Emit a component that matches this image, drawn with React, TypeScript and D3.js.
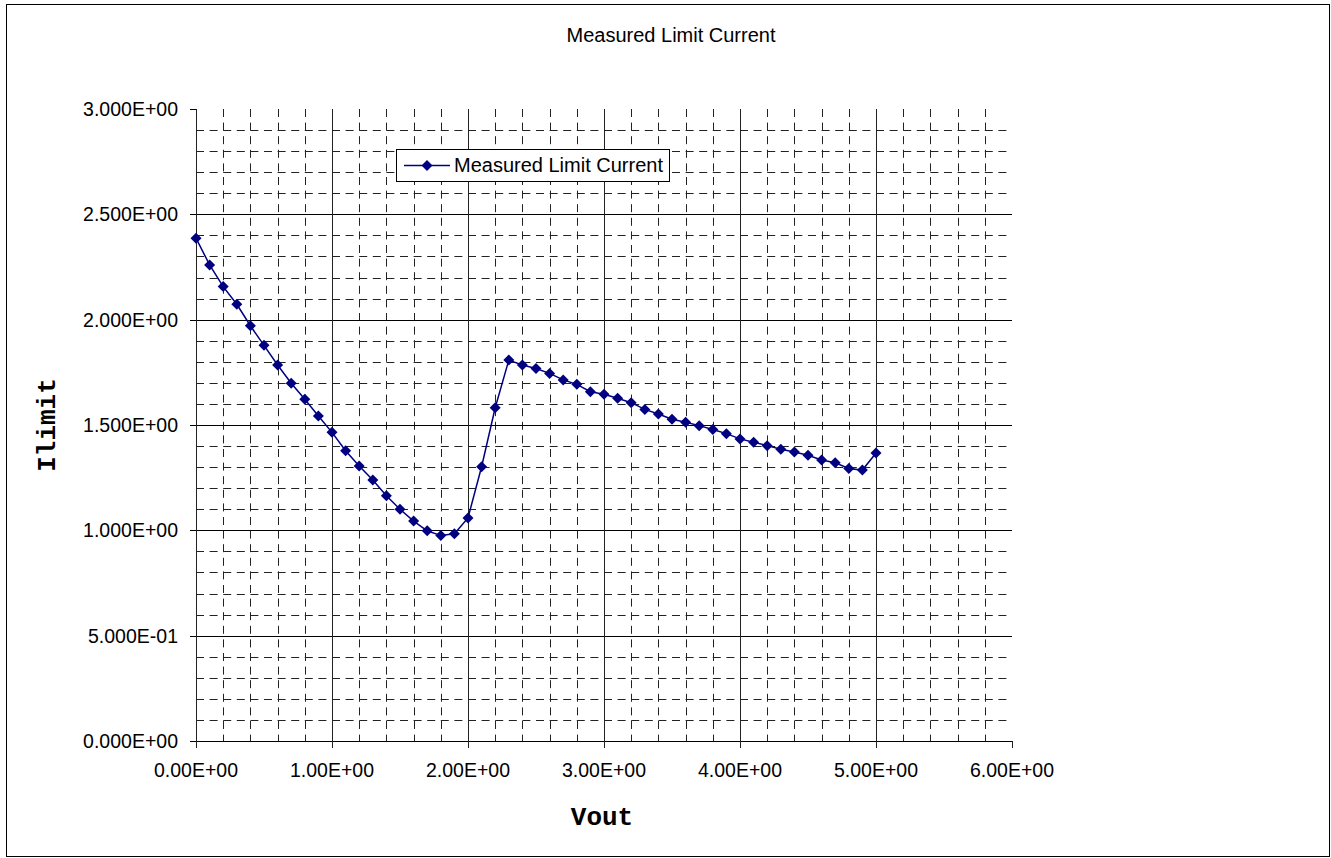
import React from "react";
import * as d3 from "d3";

const vout: number[] = [
  0.0, 0.1, 0.2, 0.3, 0.4, 0.5, 0.6, 0.7, 0.8, 0.9,
  1.0, 1.1, 1.2, 1.3, 1.4, 1.5, 1.6, 1.7, 1.8, 1.9,
  2.0, 2.1, 2.2, 2.3, 2.4, 2.5, 2.6, 2.7, 2.8, 2.9,
  3.0, 3.1, 3.2, 3.3, 3.4, 3.5, 3.6, 3.7, 3.8, 3.9,
  4.0, 4.1, 4.2, 4.3, 4.4, 4.5, 4.6, 4.7, 4.8, 4.9, 5.0,
];
const ilimit: number[] = [
  2.387, 2.26, 2.157, 2.073, 1.971, 1.878, 1.785, 1.698, 1.622, 1.543,
  1.465, 1.378, 1.305, 1.239, 1.164, 1.1, 1.044, 0.998, 0.975, 0.984,
  1.059, 1.302, 1.582, 1.808, 1.785, 1.768, 1.745, 1.714, 1.693, 1.658,
  1.646, 1.627, 1.606, 1.574, 1.552, 1.527, 1.513, 1.497, 1.479, 1.459,
  1.434, 1.418, 1.402, 1.385, 1.372, 1.356, 1.334, 1.321, 1.294, 1.286, 1.367,
];
const xTicks: number[] = [0, 1, 2, 3, 4, 5, 6];
const yTicks: number[] = [0, 0.5, 1.0, 1.5, 2.0, 2.5, 3.0];
const xTickLabels: string[] = ["0.00E+00", "1.00E+00", "2.00E+00", "3.00E+00", "4.00E+00", "5.00E+00", "6.00E+00"];
const yTickLabels: string[] = ["0.000E+00", "5.000E-01", "1.000E+00", "1.500E+00", "2.000E+00", "2.500E+00", "3.000E+00"];
const title = "Measured Limit Current";
const seriesName = "Measured Limit Current";

const W = 1331;
const H = 858;
const L = 196, R = 1012, T = 109, B = 741;

export default function App() {
  const x = d3.scaleLinear().domain([0, 6]).range([L, R]);
  const y = d3.scaleLinear().domain([0, 3]).range([B, T]);
  const data = vout.map((v, i) => [v, ilimit[i]] as [number, number]);
  const line = d3.line<[number, number]>().x((d) => x(d[0])).y((d) => y(d[1]));
  const diamond = (cx: number, cy: number, r: number) =>
    `M${cx},${cy - r}L${cx + r},${cy}L${cx},${cy + r}L${cx - r},${cy}Z`;

  const minorX = d3.range(1, 30).map((k) => k * 0.2).filter((v) => Math.abs(v - Math.round(v)) > 1e-6);
  const minorY = d3.range(1, 30).map((k) => k * 0.1).filter((v) => Math.abs(v * 2 - Math.round(v * 2)) > 1e-6);
  const majorX = [1, 2, 3, 4, 5];
  const majorY = [0.5, 1.0, 1.5, 2.0, 2.5];
  const c = (v: number) => Math.round(v) + 0.5;

  return (
    <svg
      width={W}
      height={H}
      style={{ position: "absolute", left: 0, top: 0, background: "#fff" }}
      fontFamily="'Liberation Sans', Arial, sans-serif"
    >
      <rect x={6.5} y={4.5} width={1323} height={852} fill="#fff" stroke="#000" strokeWidth={1} />
      <text x={671} y={42} textAnchor="middle" fontSize={20}>{title}</text>

      {/* minor grid */}
      {minorY.map((v, i) => (
        <line key={"my" + i} x1={L} x2={R} y1={c(y(v))} y2={c(y(v))} stroke="#222" strokeDasharray="8,5.6" />
      ))}
      {minorX.map((v, i) => (
        <line key={"mx" + i} x1={c(x(v))} x2={c(x(v))} y1={T} y2={B} stroke="#222" strokeDasharray="8,5.6" />
      ))}
      {/* major grid */}
      {majorY.map((v, i) => (
        <line key={"My" + i} x1={L} x2={R} y1={c(y(v))} y2={c(y(v))} stroke="#000" />
      ))}
      {majorX.map((v, i) => (
        <line key={"Mx" + i} x1={c(x(v))} x2={c(x(v))} y1={T} y2={B} stroke="#222" />
      ))}

      {/* axes */}
      <line x1={c(L)} x2={c(L)} y1={T} y2={B + 6} stroke="#222" />
      <line x1={L - 6} x2={R} y1={c(B)} y2={c(B)} stroke="#000" />
      {yTicks.map((v, i) => (
        <g key={"yt" + i}>
          <line x1={L - 6} x2={L} y1={c(y(v))} y2={c(y(v))} stroke="#000" />
          <text x={178} y={y(v) + 7} textAnchor="end" fontSize={19.5}>{yTickLabels[i]}</text>
        </g>
      ))}
      {xTicks.map((v, i) => (
        <g key={"xt" + i}>
          <line x1={c(x(v))} x2={c(x(v))} y1={B} y2={B + 7} stroke="#222" />
          <text x={x(v)} y={777} textAnchor="middle" fontSize={19.5}>{xTickLabels[i]}</text>
        </g>
      ))}

      {/* axis titles */}
      <text x={602} y={825} textAnchor="middle" fontSize={26} fontWeight="bold" fontFamily="'Liberation Mono', 'Courier New', monospace">Vout</text>
      <text
        transform="translate(55,425) rotate(-90)"
        textAnchor="middle"
        fontSize={26}
        fontWeight="bold"
        fontFamily="'Liberation Mono', 'Courier New', monospace"
      >
        Ilimit
      </text>

      {/* series */}
      <path d={line(data) || ""} fill="none" stroke="#000080" strokeWidth={1.5} />
      {data.map((d, i) => (
        <path key={"p" + i} d={diamond(x(d[0]), y(d[1]), 5.5)} fill="#000080" />
      ))}

      {/* legend */}
      <rect x={396.5} y={149.5} width={273} height={32} fill="#fff" stroke="#000" />
      <line x1={404} x2={450} y1={165.5} y2={165.5} stroke="#000080" strokeWidth={1.5} />
      <path d={diamond(427, 165.5, 5.5)} fill="#000080" />
      <text x={454} y={172} fontSize={20}>{seriesName}</text>
    </svg>
  );
}
